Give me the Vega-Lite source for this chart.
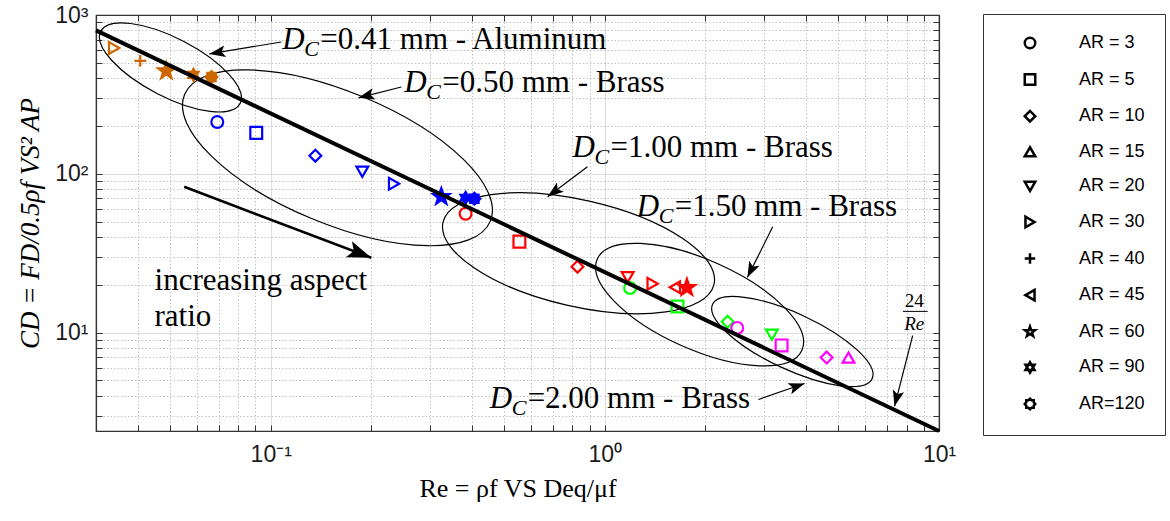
{
 "$schema": "https://vega.github.io/schema/vega-lite/v6.json",
 "width": 843,
 "height": 416,
 "autosize": {"type": "none"},
 "padding": {"left": 96, "top": 15, "right": 231, "bottom": 90},
 "background": "white",
 "config": {"view": {"stroke": "#333", "strokeWidth": 1.2}},
 "datasets": {
  "points": [
   {"Re": 0.034, "CD": 620, "AR": "AR = 30", "group": "0.41 Al"},
   {"Re": 0.0407, "CD": 514, "AR": "AR = 40", "group": "0.41 Al"},
   {"Re": 0.0487, "CD": 444, "AR": "AR = 60", "group": "0.41 Al"},
   {"Re": 0.0587, "CD": 420, "AR": "AR = 90", "group": "0.41 Al"},
   {"Re": 0.0665, "CD": 407, "AR": "AR=120", "group": "0.41 Al"},
   {"Re": 0.0692, "CD": 212, "AR": "AR = 3", "group": "0.50 Br"},
   {"Re": 0.0905, "CD": 181, "AR": "AR = 5", "group": "0.50 Br"},
   {"Re": 0.136, "CD": 130, "AR": "AR = 10", "group": "0.50 Br"},
   {"Re": 0.188, "CD": 103, "AR": "AR = 20", "group": "0.50 Br"},
   {"Re": 0.234, "CD": 86.5, "AR": "AR = 30", "group": "0.50 Br"},
   {"Re": 0.324, "CD": 71.7, "AR": "AR = 60", "group": "0.50 Br"},
   {"Re": 0.383, "CD": 70.6, "AR": "AR = 90", "group": "0.50 Br"},
   {"Re": 0.407, "CD": 69.7, "AR": "AR=120", "group": "0.50 Br"},
   {"Re": 0.383, "CD": 56, "AR": "AR = 3", "group": "1.00 Br"},
   {"Re": 0.555, "CD": 37.4, "AR": "AR = 5", "group": "1.00 Br"},
   {"Re": 0.828, "CD": 26, "AR": "AR = 10", "group": "1.00 Br"},
   {"Re": 1.17, "CD": 22.3, "AR": "AR = 20", "group": "1.00 Br"},
   {"Re": 1.39, "CD": 20.3, "AR": "AR = 30", "group": "1.00 Br"},
   {"Re": 1.62, "CD": 19.3, "AR": "AR = 45", "group": "1.00 Br"},
   {"Re": 1.76, "CD": 19.2, "AR": "AR = 60", "group": "1.00 Br"},
   {"Re": 1.19, "CD": 19.1, "AR": "AR = 3", "group": "1.50 Br"},
   {"Re": 1.65, "CD": 14.6, "AR": "AR = 5", "group": "1.50 Br"},
   {"Re": 2.33, "CD": 11.7, "AR": "AR = 10", "group": "1.50 Br"},
   {"Re": 3.16, "CD": 9.7, "AR": "AR = 20", "group": "1.50 Br"},
   {"Re": 2.49, "CD": 10.7, "AR": "AR = 3", "group": "2.00 Br"},
   {"Re": 3.38, "CD": 8.3, "AR": "AR = 5", "group": "2.00 Br"},
   {"Re": 4.61, "CD": 6.96, "AR": "AR = 10", "group": "2.00 Br"},
   {"Re": 5.36, "CD": 6.96, "AR": "AR = 15", "group": "2.00 Br"}
  ],
  "line": [{"Re": 0.03, "CD": 800}, {"Re": 10, "CD": 2.4}],
  "ellipses": [
   {"name": "E1", "Re": 0.0501, "CD": 467.6},
   {"name": "E2", "Re": 0.1584, "CD": 126.1},
   {"name": "E3", "Re": 0.834, "CD": 31.6},
   {"name": "E4", "Re": 1.921, "CD": 15.0},
   {"name": "E5", "Re": 3.64, "CD": 8.78}
  ],
  "arrows": [
   {"name": "a1", "Re": 0.1076, "CD": 676, "Re2": 0.0655, "CD2": 569},
   {"name": "a2", "Re": 0.246, "CD": 352, "Re2": 0.183, "CD2": 301},
   {"name": "a3", "Re": 0.887, "CD": 110.7, "Re2": 0.674, "CD2": 71.7},
   {"name": "a4", "Re": 3.18, "CD": 46.4, "Re2": 2.67, "CD2": 22.2},
   {"name": "a5", "Re": 2.88, "CD": 3.79, "Re2": 3.96, "CD2": 4.78},
   {"name": "a6", "Re": 8.34, "CD": 9.57, "Re2": 7.36, "CD2": 3.43},
   {"name": "a7", "Re": 0.0551, "CD": 82.8, "Re2": 0.2, "CD2": 29.6}
  ],
  "labels": [
   {"Re": 0.1083, "CD": 611, "rest": "=0.41 mm - Aluminum"},
   {"Re": 0.251, "CD": 328, "rest": "=0.50 mm - Brass"},
   {"Re": 0.8, "CD": 128, "rest": "=1.00 mm - Brass"},
   {"Re": 1.245, "CD": 54.4, "rest": "=1.50 mm - Brass"},
   {"Re": 0.452, "CD": 3.33, "rest": "=2.00 mm - Brass"}
  ],
  "note": [{"Re": 0.0449, "CD": 18.6, "text": "increasing aspect\nratio"}],
  "frac": [
   {"Re": 8.43, "CD": 14.4, "t": "24"},
   {"Re": 8.43, "CD": 10.45, "t": "Re"}
  ],
  "fracbar": [{"Re": 7.8, "CD": 13.6, "Re2": 9.25}]
 },
 "encoding": {
  "x": {"field": "Re", "type": "quantitative", "scale": {"type": "log", "domain": [0.03, 10], "nice": false}, "axis": null},
  "y": {"field": "CD", "type": "quantitative", "scale": {"type": "log", "domain": [2.4, 1000], "nice": false}, "axis": null}
 },
 "layer": [
  {
   "data": {"name": "ellipses"},
   "mark": {"type": "point", "filled": false, "opacity": 1, "stroke": "black", "strokeWidth": 1.2, "clip": true},
   "encoding": {
    "x": {"field": "Re", "type": "quantitative", "scale": {"type": "log", "domain": [0.03, 10], "nice": false},
     "axis": {"orient": "bottom",
      "values": [0.04, 0.05, 0.06, 0.07, 0.08, 0.09, 0.1, 0.2, 0.3, 0.4, 0.5, 0.6, 0.7, 0.8, 0.9, 1, 2, 3, 4, 5, 6, 7, 8, 9, 10],
      "labelExpr": "datum.value == 0.1 ? '10\u207b\u00b9' : datum.value == 1 ? '10\u2070' : datum.value == 10 ? '10\u00b9' : ''",
      "labelOverlap": false, "labelFlush": false, "labelFont": "Liberation Sans", "labelFontSize": 23, "labelColor": "#1a1a1a", "labelPadding": 18,
      "grid": true,
      "gridColor": {"condition": {"test": "datum.value == 0.1 || datum.value == 1", "value": "#dcdcdc"}, "value": "#c2c2c2"},
      "gridDash": {"condition": {"test": "datum.value == 0.1 || datum.value == 1", "value": []}, "value": [1.5, 2]},
      "gridWidth": 1,
      "ticks": true, "tickSize": -6, "tickColor": "#333", "tickWidth": 1,
      "domain": true, "domainColor": "#333", "domainWidth": 1.2,
      "title": "Re = \u03c1f VS Deq/\u03bcf", "titleFont": "Liberation Serif", "titleFontSize": 26, "titleFontWeight": "normal", "titleColor": "black", "titlePadding": 9}},
    "y": {"field": "CD", "type": "quantitative", "scale": {"type": "log", "domain": [2.4, 1000], "nice": false},
     "axis": {"orient": "left",
      "values": [3, 4, 5, 6, 7, 8, 9, 10, 20, 30, 40, 50, 60, 70, 80, 90, 100, 200, 300, 400, 500, 600, 700, 800, 900, 1000],
      "labelExpr": "datum.value == 10 ? '10\u00b9' : datum.value == 100 ? '10\u00b2' : datum.value == 1000 ? '10\u00b3' : ''",
      "labelOverlap": false, "labelFlush": false, "labelFont": "Liberation Sans", "labelFontSize": 23, "labelColor": "#1a1a1a", "labelPadding": 14,
      "grid": true,
      "gridColor": {"condition": {"test": "datum.value == 10 || datum.value == 100", "value": "#dcdcdc"}, "value": "#c2c2c2"},
      "gridDash": {"condition": {"test": "datum.value == 10 || datum.value == 100", "value": []}, "value": [1.5, 2]},
      "gridWidth": 1,
      "ticks": true, "tickSize": -6, "tickColor": "#333", "tickWidth": 1,
      "domain": true, "domainColor": "#333", "domainWidth": 1.2,
      "title": "CD = FD/0.5\u03c1f VS\u00b2 AP", "titleFont": "Liberation Serif", "titleFontStyle": "italic", "titleFontSize": 27, "titleFontWeight": "normal", "titleColor": "black", "titlePadding": 10}},
    "shape": {
     "condition": [
      {"test": "datum.name == 'E1'", "value": "M1,0C1,0.206 0.5523,0.373 0,0.373C-0.5523,0.373 -1,0.206 -1,0C-1,-0.206 -0.5523,-0.373 0,-0.373C0.5523,-0.373 1,-0.206 1,0Z"},
      {"test": "datum.name == 'E2'", "value": "M1,0C1,0.2204 0.5523,0.399 0,0.399C-0.5523,0.399 -1,0.2204 -1,0C-1,-0.2204 -0.5523,-0.399 0,-0.399C0.5523,-0.399 1,-0.2204 1,0Z"},
      {"test": "datum.name == 'E3'", "value": "M1,0C1,0.2115 0.5523,0.383 0,0.383C-0.5523,0.383 -1,0.2115 -1,0C-1,-0.2115 -0.5523,-0.383 0,-0.383C0.5523,-0.383 1,-0.2115 1,0Z"},
      {"test": "datum.name == 'E4'", "value": "M1,0C1,0.221 0.5523,0.4 0,0.4C-0.5523,0.4 -1,0.221 -1,0C-1,-0.221 -0.5523,-0.4 0,-0.4C0.5523,-0.4 1,-0.221 1,0Z"}
     ],
     "value": "M1,0C1,0.1756 0.5523,0.318 0,0.318C-0.5523,0.318 -1,0.1756 -1,0C-1,-0.1756 -0.5523,-0.318 0,-0.318C0.5523,-0.318 1,-0.1756 1,0Z"
    },
    "size": {
     "condition": [
      {"test": "datum.name == 'E1'", "value": 24649},
      {"test": "datum.name == 'E2'", "value": 109561},
      {"test": "datum.name == 'E3'", "value": 77284},
      {"test": "datum.name == 'E4'", "value": 50176}
     ],
     "value": 30976
    },
    "angle": {
     "condition": [
      {"test": "datum.name == 'E1'", "value": 27.4},
      {"test": "datum.name == 'E2'", "value": 22.5},
      {"test": "datum.name == 'E3'", "value": 12.9},
      {"test": "datum.name == 'E4'", "value": 24}
     ],
     "value": 25
    }
   }
  },
  {
   "data": {"name": "line"},
   "mark": {"type": "line", "color": "black", "strokeWidth": 0, "opacity": 0},
   "encoding": {
    "x": {"field": "Re", "type": "quantitative", "scale": {"type": "log", "domain": [0.03, 10], "nice": false},
     "axis": {"orient": "top",
      "values": [0.04, 0.05, 0.06, 0.07, 0.08, 0.09, 0.1, 0.2, 0.3, 0.4, 0.5, 0.6, 0.7, 0.8, 0.9, 1, 2, 3, 4, 5, 6, 7, 8, 9, 10],
      "labels": false, "grid": false, "ticks": true, "tickSize": -6, "tickColor": "#333", "tickWidth": 1,
      "domain": true, "domainColor": "#333", "domainWidth": 1.2, "title": null}},
    "y": {"field": "CD", "type": "quantitative", "scale": {"type": "log", "domain": [2.4, 1000], "nice": false},
     "axis": {"orient": "right",
      "values": [3, 4, 5, 6, 7, 8, 9, 10, 20, 30, 40, 50, 60, 70, 80, 90, 100, 200, 300, 400, 500, 600, 700, 800, 900, 1000],
      "labels": false, "grid": false, "ticks": true, "tickSize": -6, "tickColor": "#333", "tickWidth": 1,
      "domain": true, "domainColor": "#333", "domainWidth": 1.2, "title": null}}
   }
  },
  {
   "data": {"name": "points"},
   "mark": {"type": "point", "filled": false, "opacity": 1, "strokeWidth": 2.2},
   "encoding": {
    "size": {"condition": {"test": "datum.AR == 'AR = 60'", "value": 300}, "value": 140},
    "shape": {"field": "AR", "type": "nominal",
     "scale": {"domain": ["AR = 3", "AR = 5", "AR = 10", "AR = 15", "AR = 20", "AR = 30", "AR = 40", "AR = 45", "AR = 60", "AR = 90", "AR=120"],
      "range": ["circle", "square", "diamond", "triangle-up", "triangle-down", "triangle-right", "M-1,0L1,0M0,-1L0,1", "triangle-left",
       "M0,-1L0.235,-0.324L0.951,-0.309L0.38,0.124L0.588,0.809L0,0.4L-0.588,0.809L-0.38,0.124L-0.951,-0.309L-0.235,-0.324Z",
       "M0,-1L0.866,0.5L-0.866,0.5ZM0,1L-0.866,-0.5L0.866,-0.5Z",
       "M0,-1L0.3,-0.72L0.71,-0.71L0.72,-0.3L1,0L0.72,0.3L0.71,0.71L0.3,0.72L0,1L-0.3,0.72L-0.71,0.71L-0.72,0.3L-1,0L-0.72,-0.3L-0.71,-0.71L-0.3,-0.72Z"]},
     "legend": {
      "title": null, "orient": "none", "legendX": 887, "legendY": -1,
      "padding": 20, "strokeColor": "#333", "fillColor": "white",
      "symbolOffset": 18, "labelOffset": 40, "rowPadding": 14.6,
      "symbolSize": 110, "symbolStrokeWidth": 2.5, "symbolStrokeColor": "black",
      "labelFont": "Liberation Sans", "labelFontSize": 18, "labelColor": "black",
      "labelExpr": "datum.label + '\u00a0\u00a0\u00a0\u00a0\u00a0\u00a0\u00a0'",
      "encode": {"symbols": {"update": {
       "fill": {"signal": "indexof(['AR = 60','AR = 90','AR=120'], datum.value) >= 0 ? 'black' : 'transparent'"},
       "stroke": {"value": "black"}, "opacity": {"value": 1}}}}
     }},
    "stroke": {"field": "group", "type": "nominal",
     "scale": {"domain": ["0.41 Al", "0.50 Br", "1.00 Br", "1.50 Br", "2.00 Br"], "range": ["#CC6600", "#0000FF", "#FF0000", "#00FF00", "#FF00FF"]},
     "legend": null},
    "fill": {
     "condition": {"test": "indexof(['AR = 60','AR = 90','AR=120'], datum.AR) >= 0", "field": "group", "type": "nominal",
      "scale": {"domain": ["0.41 Al", "0.50 Br", "1.00 Br", "1.50 Br", "2.00 Br"], "range": ["#CC6600", "#0000FF", "#FF0000", "#00FF00", "#FF00FF"]},
      "legend": null},
     "value": "transparent"}
   }
  },
  {
   "data": {"name": "line"},
   "mark": {"type": "line", "color": "black", "strokeWidth": 4},
   "encoding": {}
  },
  {
   "data": {"name": "arrows"},
   "mark": {"type": "rule", "color": "black"},
   "encoding": {
    "x2": {"field": "Re2"},
    "y2": {"field": "CD2"},
    "strokeWidth": {"condition": {"test": "datum.name == 'a7'", "value": 2.6}, "value": 1.2}
   }
  },
  {
   "data": {"name": "arrows"},
   "mark": {"type": "point", "filled": true, "opacity": 1, "color": "black", "shape": "M0,0L0.36,1L0,0.78L-0.36,1Z"},
   "encoding": {
    "x": {"field": "Re2", "type": "quantitative", "scale": {"type": "log", "domain": [0.03, 10], "nice": false}, "axis": null},
    "y": {"field": "CD2", "type": "quantitative", "scale": {"type": "log", "domain": [2.4, 1000], "nice": false}, "axis": null},
    "size": {"condition": {"test": "datum.name == 'a7'", "value": 2304}, "value": 1024},
    "angle": {
     "condition": [
      {"test": "datum.name == 'a1'", "value": 260.5},
      {"test": "datum.name == 'a2'", "value": 255.6},
      {"test": "datum.name == 'a3'", "value": 233.1},
      {"test": "datum.name == 'a4'", "value": 206.1},
      {"test": "datum.name == 'a5'", "value": 70.8},
      {"test": "datum.name == 'a6'", "value": 194.2}
     ],
     "value": 110.8
    }
   }
  },
  {
   "data": {"name": "labels"},
   "mark": {"type": "text", "text": "D", "font": "Liberation Serif", "fontStyle": "italic", "fontSize": 31, "align": "left", "baseline": "alphabetic", "color": "black"},
   "encoding": {}
  },
  {
   "data": {"name": "labels"},
   "mark": {"type": "text", "text": "C", "font": "Liberation Serif", "fontStyle": "italic", "fontSize": 22, "align": "left", "baseline": "alphabetic", "dx": 22, "dy": 7, "color": "black"},
   "encoding": {}
  },
  {
   "data": {"name": "labels"},
   "mark": {"type": "text", "font": "Liberation Serif", "fontSize": 31, "align": "left", "baseline": "alphabetic", "dx": 38, "color": "black"},
   "encoding": {"text": {"field": "rest"}}
  },
  {
   "data": {"name": "note"},
   "mark": {"type": "text", "font": "Liberation Serif", "fontSize": 31, "align": "left", "baseline": "alphabetic", "lineBreak": "\n", "lineHeight": 36, "color": "black"},
   "encoding": {"text": {"field": "text"}}
  },
  {
   "data": {"name": "frac"},
   "transform": [{"filter": "datum.t == '24'"}],
   "mark": {"type": "text", "font": "Liberation Serif", "fontSize": 19, "align": "center", "baseline": "alphabetic", "color": "black"},
   "encoding": {"text": {"field": "t"}}
  },
  {
   "data": {"name": "frac"},
   "transform": [{"filter": "datum.t == 'Re'"}],
   "mark": {"type": "text", "font": "Liberation Serif", "fontStyle": "italic", "fontSize": 19, "align": "center", "baseline": "alphabetic", "color": "black"},
   "encoding": {"text": {"field": "t"}}
  },
  {
   "data": {"name": "fracbar"},
   "mark": {"type": "rule", "color": "black", "strokeWidth": 1},
   "encoding": {"x2": {"field": "Re2"}}
  }
 ]
}
